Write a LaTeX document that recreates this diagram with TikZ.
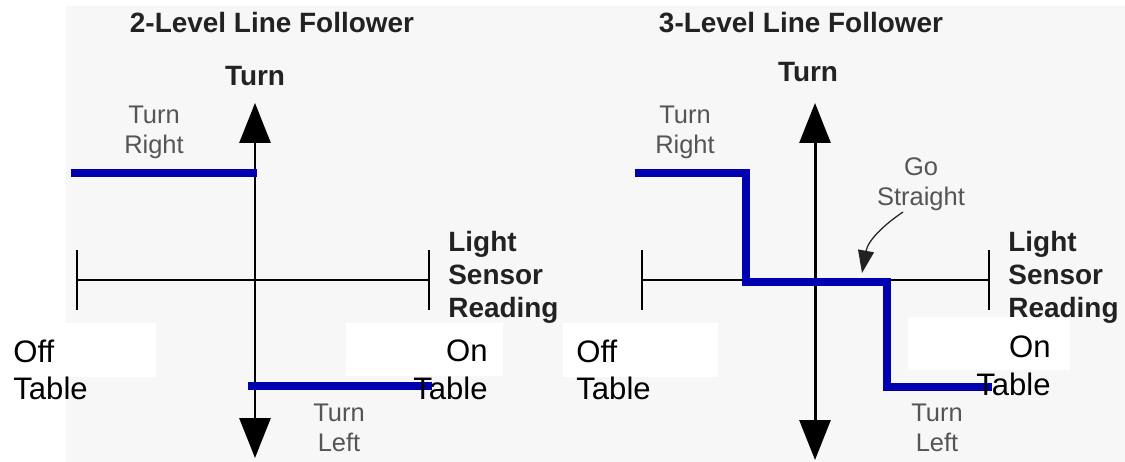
\documentclass[tikz,border=0pt]{standalone}
\usepackage{fontspec}
\setmainfont{Liberation Sans}
\usetikzlibrary{arrows.meta, positioning}
\definecolor{panelgray}{HTML}{F7F7F7}
\definecolor{lineblue}{HTML}{0000B0}
\definecolor{labelgray}{HTML}{555555}
\definecolor{headdark}{HTML}{222222}

\begin{document}
\begin{tikzpicture}[x=0.02cm, y=-0.02cm,
    head/.style={font=\fontsize{15.9}{18.7}\selectfont\bfseries, text=headdark,
                 inner sep=0pt},
    side/.style={font=\fontsize{14.5}{17}\selectfont, text=labelgray,
                 align=center, inner sep=0pt},
    tbl/.style={font=\fontsize{17.7}{21.5}\selectfont, inner sep=0pt},
    mask/.style={fill=white, draw=none},
    vaxis/.style={line width=1.7pt,
                  {Triangle[length=0.8cm, width=0.62cm]}-{Triangle[length=0.8cm, width=0.62cm]}},
    haxis/.style={line width=1.4pt, {Bar[width=1.2cm]}-{Bar[width=1.2cm]}},
    level/.style={line width=4.5pt, lineblue},
    hint/.style={-{Triangle[length=0.45cm, width=0.32cm]}, line width=0.7pt, headdark}
  ]
    \useasboundingbox (0,0) rectangle (1125,462);
    \fill[panelgray] (66,6) rectangle (1125,462);
    \fill[mask] (66,323) rectangle (156,377);
    \fill[mask] (346,323) rectangle (503,376);
    \fill[mask] (563,323) rectangle (718,377);
    \fill[mask] (908,317) rectangle (1070,370);

    % 2-level
    \coordinate (upA) at (255,103);
    \coordinate (downA) at (255,458);
    \coordinate (loA) at (76,280);
    \coordinate (hiA) at (430,280);
    \draw[haxis] (loA) -- (hiA);
    \draw[vaxis] (downA) -- (upA);
    \draw[level] (71,173) -- (257,173);
    \draw[level] (248,386) -- (432,386);
    \node[head, anchor=north] (titleA) at (272,12) {2-Level Line Follower};
    \node[head, anchor=north] (turnA) at (255,66) {Turn};
    \node[side, anchor=north] (rightA) at (154,106) {Turn\\Right};
    \node[side, anchor=north] (leftA) at (339,404) {Turn\\Left};
    \node[head, align=left, anchor=north west] (sensorA) at (448,231)
      {Light\\Sensor\\Reading};
    \node[tbl, align=left, anchor=west] (offA) at (13,370) {Off\\Table};
    \node[tbl, align=right, anchor=east] (onA) at (488,370) {On\\Table};

    % 3-level
    \coordinate (upB) at (815,103);
    \coordinate (downB) at (815,460);
    \coordinate (loB) at (641,280);
    \coordinate (hiB) at (990,280);
    \draw[haxis] (loB) -- (hiB);
    \draw[vaxis] (downB) -- (upB);
    \draw[level] (635,173) -- (746,173) -- (746,282) -- (887,282)
      -- (887,387) -- (992,387);
    \node[head, anchor=north] (titleB) at (801,12) {3-Level Line Follower};
    \node[head, anchor=north] (turnB) at (808,62) {Turn};
    \node[side, anchor=north] (rightB) at (685,106) {Turn\\Right};
    \node[side, anchor=north] (straightB) at (921,157) {Go\\Straight};
    \node[side, anchor=north] (leftB) at (937,404) {Turn\\Left};
    \node[head, align=left, anchor=north west] (sensorB) at (1008,231)
      {Light\\Sensor\\Reading};
    \node[tbl, align=left, anchor=west] (offB) at (576,370) {Off\\Table};
    \node[tbl, align=right, anchor=east] (onB) at (1051,366) {On\\Table};
    \coordinate (gsFrom) at (903,212);
    \coordinate (gsTo) at (862,273);
    \draw[hint] (gsFrom) .. controls (885,224) and (868,240) .. (gsTo);
  \end{tikzpicture}
\end{document}
